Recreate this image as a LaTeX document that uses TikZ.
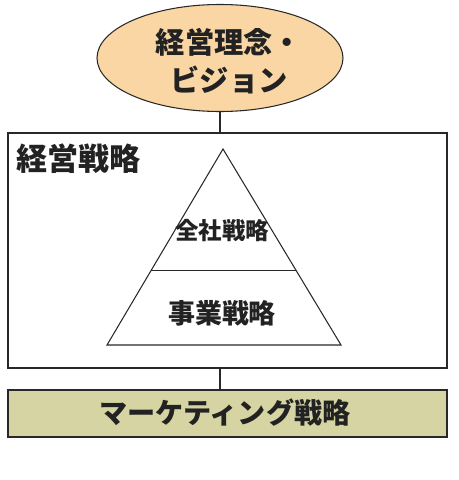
\documentclass[tikz,border=0pt]{standalone}
\usepackage{fontspec}
\usetikzlibrary{shapes,positioning,calc}
\newfontfamily\jpfont{Noto Sans CJK JP}
\definecolor{visioncolor}{RGB}{250,214,164}
\definecolor{mktcolor}{RGB}{214,212,162}
\definecolor{textcolor}{RGB}{34,34,34}
\definecolor{linecolor}{RGB}{40,40,40}
\tikzset{
  jptext/.style={text=textcolor,font=\jpfont\bfseries,inner sep=0pt},
  frame/.style={draw=linecolor,line width=0.9pt},
}

\begin{document}
\begin{tikzpicture}[x=0.03cm,y=-0.03cm]
\useasboundingbox (0,0) rectangle (459,480);
\node[frame,ellipse,fill=visioncolor,minimum width=7.38cm,minimum height=3.21cm,inner sep=0pt] (vision) at (220,58) {};
\node[jptext,font=\jpfont\bfseries\fontsize{25pt}{32pt}\selectfont,align=center] (visiontxt) at (229,61) {経営理念・\\ビジョン};
\node[frame,rectangle,minimum width=13.17cm,minimum height=7.05cm] (strategy) at (227.5,250.5) {};
\node[frame,rectangle,fill=mktcolor,minimum width=13.17cm,minimum height=1.41cm] (marketing) at (227.5,413.5) {};
\node[jptext,font=\jpfont\bfseries\fontsize{24pt}{26pt}\selectfont] (mkttxt) at (225,413) {マーケティング戦略};
\node[jptext,font=\jpfont\bfseries\fontsize{26.5pt}{28pt}\selectfont,anchor=west] (strattxt) at (16,159) {経営戦略};
% pyramid
\coordinate (apex) at (223,149);
\coordinate (baseL) at (107,345);
\coordinate (baseR) at (341,345);
\draw[frame] (apex) -- (baseL) -- (baseR) -- cycle;
\draw[frame] ($(apex)!0.622!(baseL)$) -- ($(apex)!0.622!(baseR)$);
\node[jptext,font=\jpfont\bfseries\fontsize{20pt}{22pt}\selectfont] (corp) at (222,231) {全社戦略};
\node[jptext,font=\jpfont\bfseries\fontsize{23pt}{25pt}\selectfont] (biz) at (222,313) {事業戦略};
% connectors
\draw[frame,line width=1.6pt] (vision.south) -- (vision.south |- strategy.north);
\draw[frame,line width=1.6pt] (vision.south |- strategy.south) -- (vision.south |- marketing.north);
\end{tikzpicture}
\end{document}
